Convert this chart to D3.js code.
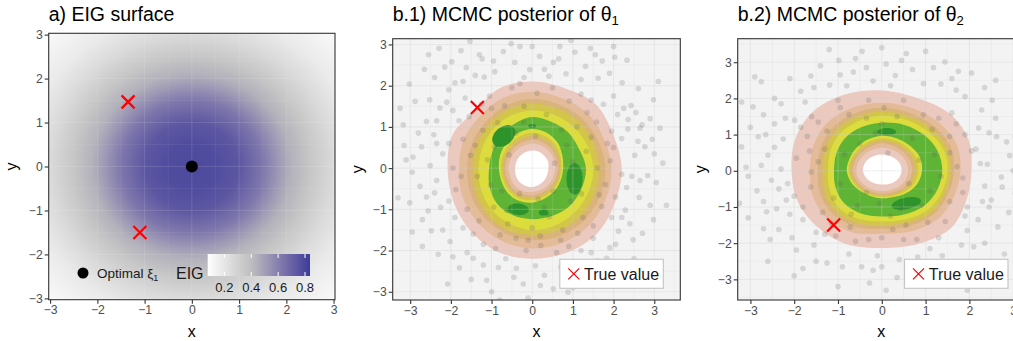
<!DOCTYPE html>
<html>
<head>
<meta charset="utf-8">
<script src="https://cdn.jsdelivr.net/npm/d3@7"></script>
<style>
  body { margin: 0; background: #fff; }
  svg { display: block; font-family: "Liberation Sans", Arial, sans-serif; }
</style>
</head>
<body>
<svg id="chart" width="1013" height="341"></svg>
<script>
// ---------- data ----------
const axisTicks = [-3, -2, -1, 0, 1, 2, 3];
const gridMinor = [-3.5, -2.5, -1.5, -0.5, 0.5, 1.5, 2.5, 3.5];

// EIG surface: value by distance from the origin
const eigRadius = [0, 0.5, 1.0, 1.5, 1.8, 2.1, 2.5, 3.0, 3.5, 4.3];
const eigValue  = [0.79, 0.78, 0.74, 0.63, 0.53, 0.44, 0.36, 0.26, 0.18, 0.1];
const eigLimits = [0.076, 0.837];
const eigBreaks = [0.2, 0.4, 0.6, 0.8];
const optimalXi = [0, 0];
const trueTheta1 = [-1.35, 1.47];
const trueTheta2 = [-1.1, -1.5];

// posterior density bands: boundary radius at each angle
const ringAngles = [0, 22.5, 45, 67.5, 90, 112.5, 135, 157.5, 180, 202.5, 225, 247.5, 270, 292.5, 315, 337.5];

const b1Centre = [0.0, 0.0];
const b1Outer = [
  [2.2, 2.15, 2.2, 2.1, 2.1, 2.1, 1.98, 2.12, 2.08, 2.1, 2.15, 2.2, 2.2, 2.22, 2.25, 2.2],
  [1.95, 1.9, 1.9, 1.85, 1.85, 1.85, 1.8, 1.82, 1.8, 1.85, 1.88, 1.92, 1.95, 1.96, 1.97, 1.96],
  [1.8, 1.75, 1.72, 1.68, 1.68, 1.65, 1.6, 1.6, 1.6, 1.64, 1.68, 1.72, 1.75, 1.78, 1.8, 1.8],
  [1.64, 1.62, 1.6, 1.57, 1.57, 1.54, 1.5, 1.46, 1.46, 1.5, 1.57, 1.62, 1.62, 1.64, 1.66, 1.65],
  [1.5, 1.46, 1.42, 1.4, 1.4, 1.38, 1.35, 1.32, 1.32, 1.36, 1.42, 1.46, 1.5, 1.5, 1.5, 1.5],
  [1.32, 1.24, 1.24, 1.22, 1.24, 1.16, 1.1, 1.06, 1.06, 1.14, 1.22, 1.24, 1.24, 1.26, 1.3, 1.31]
];
const b1Inner = [
  [0.4, 0.42, 0.42, 0.43, 0.43, 0.42, 0.42, 0.42, 0.42, 0.44, 0.46, 0.46, 0.46, 0.44, 0.42, 0.4],
  [0.56, 0.57, 0.58, 0.59, 0.59, 0.58, 0.58, 0.58, 0.58, 0.58, 0.6, 0.6, 0.58, 0.57, 0.56, 0.56],
  [0.63, 0.64, 0.66, 0.68, 0.69, 0.67, 0.66, 0.66, 0.66, 0.66, 0.68, 0.68, 0.66, 0.64, 0.63, 0.63],
  [0.68, 0.7, 0.73, 0.76, 0.78, 0.75, 0.73, 0.72, 0.72, 0.72, 0.74, 0.74, 0.72, 0.7, 0.68, 0.68],
  [0.72, 0.75, 0.8, 0.84, 0.86, 0.83, 0.8, 0.78, 0.77, 0.77, 0.79, 0.8, 0.78, 0.75, 0.73, 0.72],
  [0.76, 0.8, 0.88, 0.93, 0.95, 0.92, 0.88, 0.85, 0.82, 0.82, 0.85, 0.86, 0.84, 0.8, 0.78, 0.76]
];
// dark green peaks: [x, y, rx, ry, rotation]
const b1Peaks = [
  [-0.7, 0.78, 0.32, 0.22, 40],
  [1.04, -0.26, 0.2, 0.38, 0],
  [-0.34, -1.0, 0.26, 0.14, -5],
  [0.0, 1.02, 0.1, 0.05, 0],
  [0.28, -1.08, 0.12, 0.07, 0]
];

const b2Centre = [0.0, 0.02];
const b2Outer = [
  [2.05, 2.15, 2.2, 2.15, 2.2, 2.25, 2.25, 2.15, 2.06, 2.1, 2.15, 2.2, 2.15, 2.2, 2.25, 2.1],
  [1.8, 1.85, 1.85, 1.85, 1.86, 1.85, 1.8, 1.7, 1.64, 1.72, 1.82, 1.85, 1.76, 1.82, 1.86, 1.8],
  [1.65, 1.7, 1.7, 1.7, 1.72, 1.68, 1.62, 1.52, 1.46, 1.54, 1.64, 1.68, 1.62, 1.67, 1.7, 1.65],
  [1.57, 1.6, 1.6, 1.6, 1.62, 1.57, 1.5, 1.4, 1.34, 1.42, 1.54, 1.57, 1.52, 1.57, 1.62, 1.57],
  [1.5, 1.52, 1.5, 1.5, 1.5, 1.45, 1.38, 1.28, 1.23, 1.3, 1.42, 1.45, 1.42, 1.47, 1.52, 1.5],
  [1.38, 1.38, 1.37, 1.35, 1.31, 1.27, 1.21, 1.13, 1.09, 1.15, 1.25, 1.29, 1.28, 1.33, 1.38, 1.38]
];
const b2Inner = [
  [0.45, 0.45, 0.44, 0.43, 0.43, 0.43, 0.43, 0.43, 0.43, 0.42, 0.41, 0.4, 0.4, 0.42, 0.44, 0.45],
  [0.6, 0.6, 0.6, 0.61, 0.62, 0.6, 0.58, 0.58, 0.58, 0.58, 0.57, 0.57, 0.58, 0.58, 0.6, 0.6],
  [0.69, 0.7, 0.7, 0.72, 0.74, 0.7, 0.67, 0.66, 0.66, 0.65, 0.64, 0.64, 0.65, 0.66, 0.68, 0.69],
  [0.76, 0.78, 0.78, 0.8, 0.82, 0.77, 0.73, 0.72, 0.72, 0.7, 0.69, 0.69, 0.7, 0.72, 0.74, 0.76],
  [0.83, 0.85, 0.85, 0.87, 0.88, 0.83, 0.78, 0.76, 0.76, 0.74, 0.73, 0.73, 0.74, 0.76, 0.8, 0.83],
  [0.92, 0.94, 0.93, 0.94, 0.95, 0.9, 0.84, 0.8, 0.8, 0.78, 0.76, 0.76, 0.78, 0.8, 0.86, 0.9]
];
const b2Peaks = [
  [0.11, 1.08, 0.22, 0.1, 0],
  [0.56, -0.9, 0.34, 0.16, 12]
];

// MCMC samples (approximate positions)
const b1Samples = [
  [-2.29,2.91],[-1.53,3.08],[-1.23,2.65],[-0.43,2.57],[-0.06,2.39],[0.52,2.57],[1.05,2.81],[2.03,2.69],[2.98,1.66],[2.65,0.97],
  [3.14,0.97],[2.77,0.52],[2.32,-0.47],[2.98,-1.25],[2.48,-1.74],[1.83,-2.19],[1.5,-2.68],[0.52,-2.93],[-0.39,-2.43],[-1.12,-2.72],
  [-1.45,-2.19],[-2.02,-1.78],[-2.56,-1.04],[-3.01,-0.84],[-2.35,-0.3],[-2.93,0.27],[-2.72,0.52],[-3.17,1.05],[-2.6,1.13],[-2.27,1.46],
  [-2.52,1.66],[-1.9,2.07],[-0.92,2.34],[-0.71,2.83],[0.18,2.71],[0.83,2.29],[1.31,2.47],[1.62,2.18],[2.21,2.07],[2.43,1.52],
  [2.61,1.93],[2.36,1.18],[2.52,0.31],[2.84,-0.18],[2.29,-1.02],[2.63,-0.71],[2.12,-1.53],[1.18,-2.31],[0.94,-2.56],[0.08,-2.37],
  [-0.22,-2.81],[-0.83,-2.41],[-1.79,-2.42],[-2.31,-2.09],[-2.48,-1.52],[-2.76,-0.44],[-2.51,0.06],[-3.3,-0.72],[-2.42,0.81],[-2.88,1.62],
  [-1.62,2.44],[-1.18,2.21],[0.41,2.23],[-0.52,3.02],[1.91,-1.93],[2.71,-1.58],[3.21,0.12],[-3.02,2.04],[-2.08,-2.81],[0.88,-3.01],
  [1.43,2.91],[2.33,2.62],[-1.98,2.58],[-0.3,2.95],[0.68,2.95],[1.72,2.6],[2.9,1.2],[3.05,-0.35],[2.2,0.72],[2.4,-1.35],
  [1.45,-2.05],[0.3,-2.6],[-0.65,-2.2],[-1.5,-2.7],[-2.7,-1.9],[-2.25,-0.95],[-3.15,0.55],[-2.2,0.35],[-2.05,1.9],[-1.4,2.25],
  [0.0,2.95],[1.9,2.3],[2.55,1.35],[2.95,0.7],[2.2,-0.15],[1.7,-2.5],[-0.1,-3.15],[-1.0,-3.0],[-2.6,-0.7],[-3.25,1.45],
  [-2.65,2.4],[2.5,-2.2],
  [-2.4,2.2],[-2.15,2.45],[-1.75,2.85],[-0.95,2.6],[-0.2,2.2],[0.3,2.4],[0.65,2.65],[1.2,2.15],[1.55,2.75],[2.0,1.75],
  [2.25,1.45],[2.7,1.05],[2.35,0.95],[2.6,0.65],[3.0,0.35],[2.45,-0.2],[2.65,-0.3],[2.9,-0.9],[2.2,-1.2],[2.05,-1.85],
  [1.6,-2.25],[1.3,-2.75],[0.7,-2.4],[0.2,-2.85],[-0.45,-2.65],[-1.2,-2.35],[-1.6,-2.05],[-1.95,-2.15],[-2.2,-1.5],[-2.7,-1.25],
  [-2.4,-0.6],[-2.95,-0.1],[-2.35,0.6],[-2.8,0.85],[-2.35,1.15],[-2.1,1.6],[-1.7,2.1],[-3.1,0.2],[-1.3,2.75],[0.95,3.1],
  [2.25,-2.5],[-2.95,-1.55],[3.3,-0.9],[-0.8,-3.2],[1.0,-2.9],[2.0,2.95],[-2.55,2.75],[3.1,2.1],
  [-1.8,1.15],[-1.52,0.31],[-1.88,-0.52],[-1.31,-1.28],[-0.79,-1.62],[0.21,-1.88],[1.12,-1.58],[1.71,-0.93],[1.92,0.18],[1.58,1.12],
  [0.91,1.63],[0.12,1.82],[-0.68,1.51],[-1.21,0.92],[-1.02,-0.41],[-0.62,-1.02],[0.42,-1.18],[1.21,-0.62],[1.33,0.41],[0.72,0.93],
  [-0.21,1.12],[-0.93,0.52],[0.55,0.12],[-0.31,-0.62],[0.08,0.78],[-0.57,0.32],[0.52,-0.56],[-1.6,-1.0],[-1.0,1.45],[1.35,1.35],
  [1.8,-0.4],[0.9,-1.9],[-0.4,-1.7],[-1.7,0.7],[-1.95,0.0],[1.95,0.9],[0.5,1.95],[-0.5,1.95],[1.5,-1.4],[-1.45,-1.6],
  [0.0,-1.45],[1.0,0.15],[-0.95,-0.95],[-1.25,1.55],[1.1,1.0],[0.3,-0.95],[-1.35,-0.2],[0.75,-1.5],[1.6,0.0],[-0.2,1.5],
  [-0.85,1.1],[1.25,-1.2],[1.75,1.55],[-1.65,1.7],[-1.9,-1.2],[-0.15,-2.0],[0.6,-2.05],[2.05,-0.7],[2.0,0.5],[1.2,1.8],
  [-0.9,-1.95],[-2.05,0.6],[-1.1,0.2],[0.95,-0.8],[0.35,1.3],[-0.6,-1.35],[1.45,0.75],[-1.4,0.55],[0.2,-1.65],[1.65,-0.65],
  [-0.4,0.85],[0.85,0.55],[-0.75,-0.55],[0.15,-0.75],
  [-1.95,1.4],[-2.05,-0.8],[1.95,-1.2],[1.2,-2.0],[-1.2,-1.85],[2.1,1.3],[-0.3,2.05],[0.7,-1.75],[-1.75,-0.2],[1.85,0.6],
  [-1.05,1.75],[1.45,1.65],[-0.1,-1.75],[-1.55,1.25],[1.5,-1.7],[-1.7,-1.45]
];
const b2Samples = [
  [0.56,3.24],[-2.75,2.46],[-2.94,1.77],[-2.82,0.94],[-3.2,0.66],[-2.6,0.43],[-2.52,-0.26],[-2.18,-0.81],[-2.63,-1.13],[-1.95,-2.19],
  [-0.46,-2.65],[0.0,-2.65],[0.64,-3.16],[1.55,-3.02],[1.82,-2.05],[2.5,-0.81],[2.73,-0.17],[2.62,0.94],[2.28,1.68],[1.7,2.23],
  [1.44,3.01],[-0.65,2.73],[-1.19,2.37],[-1.99,1.4],[-1.62,2.62],[-0.98,3.05],[-0.2,2.48],[0.31,2.63],[0.95,2.41],[1.18,2.85],
  [2.05,2.7],[2.52,1.95],[2.21,1.18],[2.92,0.42],[2.41,0.18],[2.35,-0.42],[3.05,-0.62],[2.2,-1.35],[2.65,-1.55],[1.38,-2.35],
  [2.05,-2.55],[0.82,-2.38],[0.35,-2.95],[-0.28,-3.1],[-0.75,-2.3],[-1.25,-2.55],[-1.55,-2.05],[-2.35,-1.62],[-2.85,-0.55],[-2.3,0.05],
  [-3.05,-0.15],[-2.25,0.88],[-2.3,1.85],[-1.85,2.2],[-2.9,2.6],[-0.45,3.3],[1.0,3.3],[1.95,-3.3],[-1.0,-3.2],[3.1,1.4],
  [-3.25,-0.9],[2.8,-2.3],[-2.6,-2.5],[0.1,2.95],[1.6,2.55],[2.45,-1.0],[-2.1,-1.2],[-2.45,1.3],[-1.4,2.9],[0.7,-2.7],
  [-0.1,-2.35],[1.1,-2.15],[2.15,0.6],[-2.15,-0.35],[2.6,2.5],[-3.0,1.2],[-1.8,-2.7],[2.35,-2.0],[3.0,0.0],[-2.7,-1.6],
  [0.0,3.4],[-0.8,2.35],
  [-2.45,2.0],[-2.1,2.55],[-1.55,2.3],[-0.95,2.65],[-0.35,2.85],[0.2,2.35],[0.7,2.8],[1.35,2.4],[1.9,2.05],[2.35,2.3],
  [2.6,1.45],[2.45,1.05],[2.85,0.8],[2.25,0.2],[2.75,-0.45],[2.3,-0.85],[2.9,-1.15],[1.95,-1.65],[2.1,-2.1],[1.5,-2.6],
  [1.0,-2.55],[0.4,-2.45],[-0.2,-2.75],[-0.9,-2.65],[-1.5,-2.5],[-2.05,-1.85],[-2.55,-1.9],[-2.4,-1.05],[-2.7,-0.85],[-2.35,-0.5],
  [-2.75,0.15],[-2.45,0.65],[-2.65,1.0],[-2.2,1.45],[-2.7,1.55],[-1.75,1.9],[-3.1,0.1],[-0.6,3.1],[0.45,3.05],[1.75,2.75],
  [3.05,0.95],[3.15,-0.3],[2.5,-2.6],[0.1,-3.3],[-2.0,-2.9],[-3.05,-1.3],[-3.2,1.9],[-1.2,3.35],
  [-1.7,0.95],[-1.45,0.25],[-1.62,-0.45],[-1.35,-1.15],[-0.72,-1.55],[0.25,-1.62],[1.05,-1.42],[1.55,-0.85],[1.72,0.12],[1.55,0.95],
  [0.95,1.55],[0.05,1.75],[-0.75,1.55],[-1.25,1.1],[-0.95,-0.35],[-0.55,-0.95],[0.45,-1.05],[1.1,-0.55],[1.2,0.45],[0.7,0.9],
  [-0.15,1.05],[-0.85,0.45],[0.14,0.5],[-0.35,-0.6],[0.62,-0.35],[-1.95,0.35],[-1.6,1.5],[1.9,1.0],[1.85,-0.6],[-0.3,-1.9],
  [0.8,-1.9],[-1.0,1.95],[0.5,1.95],[1.3,1.45],[-1.8,-1.0],[-1.05,-1.8],[1.45,-1.4],[1.9,-1.25],[-0.5,0.75],[0.85,0.3],
  [-1.1,-0.75],[0.2,-1.25],[1.35,-0.15],[-1.3,0.6],[0.0,1.3],[-0.7,-1.2],[0.9,-0.95],[-1.61,-0.03],[1.6,1.6],[-1.5,-1.7],
  [0.35,1.5],[1.15,1.15],[-0.35,1.45],[-1.15,-1.45],[1.55,0.5],[0.55,-1.5],[-0.05,-0.9],[-1.65,0.55],
  [-1.85,1.2],[-2.0,-0.7],[1.95,-1.0],[1.3,-1.85],[-1.3,-1.75],[2.05,0.55],[-0.3,1.95],[0.5,-1.9],[-1.8,-1.35],[1.85,-0.2],
  [-0.95,1.75],[1.7,1.3],[0.0,-1.85],[-1.45,1.35],[-0.6,-1.95]
];

// ---------- styles ----------
const bandColours = ['#ecc9bf', '#e4bb98', '#d9b378', '#d3c54a', '#dcdc3c', '#5fb436'];
const peakColour = '#2e932a';
const eigColour = d3.scaleLinear()
  .domain([eigLimits[0], 0.4, eigLimits[1]])
  .range(['#ffffff', '#bebebe', '#3c3c99'])
  .interpolate(d3.interpolateLab)
  .clamp(true);
const tickFmt = d3.format('d');

const svg = d3.select('#chart');
const defs = svg.append('defs');

const panels = {
  a:  { left: 48.7,  top: 33.3, right: 335,   bottom: 299.7, xDom: [-3.03, 3.03], yDom: [-3.03, 3.03], yLabelX: 17.3 },
  b1: { left: 392.7, top: 38.7, right: 680.3, bottom: 300,   xDom: [-3.43, 3.64], yDom: [-3.2, 3.14],  yLabelX: 363.3 },
  b2: { left: 737.7, top: 38.7, right: 1025,  bottom: 300,   xDom: [-3.29, 3.27], yDom: [-3.57, 3.65], yLabelX: 706 }
};

function scales(p) {
  return {
    x: d3.scaleLinear().domain(p.xDom).range([p.left, p.right]),
    y: d3.scaleLinear().domain(p.yDom).range([p.bottom, p.top])
  };
}

function clipFor(id, p) {
  defs.append('clipPath').attr('id', 'clip-' + id)
    .append('rect').attr('x', p.left).attr('y', p.top)
    .attr('width', p.right - p.left).attr('height', p.bottom - p.top);
  return svg.append('g').attr('clip-path', `url(#clip-${id})`);
}

function grid(g, p, s, colour, opacity) {
  const lines = g.append('g').attr('stroke', colour).attr('stroke-opacity', opacity);
  lines.selectAll('.vmin').data(gridMinor).join('line')
    .attr('x1', d => s.x(d)).attr('x2', d => s.x(d)).attr('y1', p.top).attr('y2', p.bottom)
    .attr('stroke-width', 0.5);
  lines.selectAll('.hmin').data(gridMinor).join('line')
    .attr('y1', d => s.y(d)).attr('y2', d => s.y(d)).attr('x1', p.left).attr('x2', p.right)
    .attr('stroke-width', 0.5);
  lines.selectAll('.vmaj').data(axisTicks).join('line')
    .attr('x1', d => s.x(d)).attr('x2', d => s.x(d)).attr('y1', p.top).attr('y2', p.bottom)
    .attr('stroke-width', 1);
  lines.selectAll('.hmaj').data(axisTicks).join('line')
    .attr('y1', d => s.y(d)).attr('y2', d => s.y(d)).attr('x1', p.left).attr('x2', p.right)
    .attr('stroke-width', 1);
}

function frame(p, s, title, sub) {
  svg.append('rect').attr('x', p.left).attr('y', p.top)
    .attr('width', p.right - p.left).attr('height', p.bottom - p.top)
    .attr('fill', 'none').attr('stroke', '#333').attr('stroke-width', 1.1);

  const styleAxis = g => {
    g.select('.domain').remove();
    g.selectAll('.tick line').attr('stroke', '#333').attr('stroke-width', 1.1);
    g.selectAll('.tick text').attr('fill', '#4d4d4d').attr('font-size', 12.2)
      .attr('font-family', '"Liberation Sans", Arial, sans-serif');
  };
  svg.append('g').attr('transform', `translate(0,${p.bottom})`)
    .call(d3.axisBottom(s.x).tickValues(axisTicks).tickFormat(tickFmt).tickSize(4).tickPadding(2))
    .call(styleAxis);
  svg.append('g').attr('transform', `translate(${p.left},0)`)
    .call(d3.axisLeft(s.y).tickValues(axisTicks).tickFormat(tickFmt).tickSize(4).tickPadding(2))
    .call(styleAxis);

  svg.append('text').attr('x', (p.left + p.right) / 2).attr('y', 336.5)
    .attr('text-anchor', 'middle').attr('font-size', 16).attr('fill', '#000').text('x');
  svg.append('text')
    .attr('transform', `translate(${p.yLabelX},${(p.top + p.bottom) / 2}) rotate(-90)`)
    .attr('text-anchor', 'middle').attr('font-size', 16).attr('fill', '#000').text('y');

  const t = svg.append('text').attr('x', p.left).attr('y', 20.5)
    .attr('font-size', 19.5).attr('fill', '#000').text(title);
  if (sub) {
    t.append('tspan').attr('font-size', 13).attr('dy', 4).text(sub);
  }
}

function cross(g, s, pt, half, width) {
  const cx = s.x(pt[0]), cy = s.y(pt[1]);
  g.append('path')
    .attr('d', `M${cx - half},${cy - half}L${cx + half},${cy + half}M${cx - half},${cy + half}L${cx + half},${cy - half}`)
    .attr('stroke', '#ff0000').attr('stroke-width', width).attr('fill', 'none');
}

// ---------- panel a: EIG surface ----------
{
  const p = panels.a, s = scales(p);
  const kx = s.x(1) - s.x(0), ky = s.y(0) - s.y(1);
  const cx = s.x(0), cy = s.y(0);
  const rMax = eigRadius[eigRadius.length - 1];
  const grad = defs.append('radialGradient').attr('id', 'eigGrad')
    .attr('gradientUnits', 'userSpaceOnUse')
    .attr('cx', cx).attr('cy', cy).attr('r', rMax * kx)
    .attr('gradientTransform', `translate(${cx},${cy}) scale(1,${ky / kx}) translate(${-cx},${-cy})`);
  grad.selectAll('stop').data(eigRadius).join('stop')
    .attr('offset', d => d / rMax)
    .attr('stop-color', (d, i) => eigColour(eigValue[i]));

  const g = clipFor('a', p);
  g.append('rect').attr('x', p.left).attr('y', p.top)
    .attr('width', p.right - p.left).attr('height', p.bottom - p.top)
    .attr('fill', 'url(#eigGrad)');
  grid(g, p, s, '#ffffff', 0.12);

  cross(g, s, trueTheta1, 6.5, 2.2);
  cross(g, s, trueTheta2, 6.5, 2.2);
  g.append('circle').attr('cx', s.x(optimalXi[0])).attr('cy', s.y(optimalXi[1]))
    .attr('r', 6).attr('fill', '#000');

  // legend
  const lg = svg.append('g');
  lg.append('circle').attr('cx', 83).attr('cy', 273).attr('r', 5.5).attr('fill', '#000');
  const lt = lg.append('text').attr('x', 97).attr('y', 277.5).attr('font-size', 13.5).attr('fill', '#1a1a1a')
    .text('Optimal ξ');
  lt.append('tspan').attr('font-size', 9).attr('dy', 3).text('1');
  lg.append('text').attr('x', 176).attr('y', 279).attr('font-size', 16).attr('fill', '#1a1a1a').text('EIG');

  const bar = { left: 207.7, right: 310, top: 254, bottom: 276 };
  const bx = d3.scaleLinear().domain(eigLimits).range([bar.left, bar.right]);
  const lin = defs.append('linearGradient').attr('id', 'eigBar');
  const barStops = d3.range(0, 1.0001, 0.05);
  lin.selectAll('stop').data(barStops).join('stop')
    .attr('offset', d => d)
    .attr('stop-color', d => eigColour(eigLimits[0] + d * (eigLimits[1] - eigLimits[0])));
  lg.append('rect').attr('x', bar.left).attr('y', bar.top)
    .attr('width', bar.right - bar.left).attr('height', bar.bottom - bar.top)
    .attr('fill', 'url(#eigBar)');
  lg.selectAll('.tk1').data(eigBreaks).join('line')
    .attr('x1', d => bx(d)).attr('x2', d => bx(d)).attr('y1', bar.top).attr('y2', bar.top + 4)
    .attr('stroke', '#fff').attr('stroke-width', 1);
  lg.selectAll('.tk2').data(eigBreaks).join('line')
    .attr('x1', d => bx(d)).attr('x2', d => bx(d)).attr('y1', bar.bottom - 4).attr('y2', bar.bottom)
    .attr('stroke', '#fff').attr('stroke-width', 1);
  lg.selectAll('.lbl').data(eigBreaks).join('text')
    .attr('x', d => bx(d)).attr('y', 292).attr('text-anchor', 'middle')
    .attr('font-size', 13).attr('fill', '#1a1a1a').text(d => d.toFixed(1));

  frame(p, s, 'a) EIG surface', null);
}

// ---------- panels b: MCMC posteriors ----------
function posterior(id, centre, outer, inner, peaks, samples, truth, sub) {
  const p = panels[id], s = scales(p);
  const kx = s.x(1) - s.x(0), ky = s.y(0) - s.y(1);
  const g = clipFor(id, p);
  g.append('rect').attr('x', p.left).attr('y', p.top)
    .attr('width', p.right - p.left).attr('height', p.bottom - p.top)
    .attr('fill', '#f3f3f3');

  const line = d3.line().x(d => s.x(d[0])).y(d => s.y(d[1]))
    .curve(d3.curveCatmullRomClosed.alpha(0.5));
  const ring = radii => radii.map((r, i) => {
    const a = ringAngles[i] * Math.PI / 180;
    return [centre[0] + r * Math.cos(a), centre[1] + r * Math.sin(a)];
  });

  outer.forEach((radii, k) => {
    g.append('path').attr('d', line(ring(radii))).attr('fill', bandColours[k]);
  });
  for (let k = inner.length - 1; k >= 0; k--) {
    g.append('path').attr('d', line(ring(inner[k])))
      .attr('fill', k === 0 ? '#ffffff' : bandColours[k - 1]);
  }
  g.selectAll('.peak').data(peaks).join('ellipse')
    .attr('transform', d => `translate(${s.x(d[0])},${s.y(d[1])}) rotate(${-d[4]})`)
    .attr('rx', d => d[2] * kx).attr('ry', d => d[3] * ky)
    .attr('fill', peakColour);

  grid(g, p, s, '#cfcfcf', 0.35);

  g.selectAll('.pt').data(samples).join('circle')
    .attr('cx', d => s.x(d[0])).attr('cy', d => s.y(d[1])).attr('r', 2.8)
    .attr('fill', '#555').attr('fill-opacity', 0.19);

  cross(g, s, truth, 6.5, 2.2);

  // legend box
  const box = { right: p.right - 17, width: 103.5, top: 259.3, height: 29 };
  const bl = box.right - box.width;
  g.append('rect').attr('x', bl).attr('y', box.top).attr('width', box.width).attr('height', box.height)
    .attr('fill', '#fff').attr('stroke', '#c4c4c4').attr('stroke-width', 1.1);
  const mx = bl + 14, my = box.top + 14.5, h = 5.5;
  g.append('path')
    .attr('d', `M${mx - h},${my - h}L${mx + h},${my + h}M${mx - h},${my + h}L${mx + h},${my - h}`)
    .attr('stroke', '#ff0000').attr('stroke-width', 1.2);
  g.append('text').attr('x', bl + 24.3).attr('y', box.top + 20.5)
    .attr('font-size', 16).attr('fill', '#1a1a1a').text('True value');

  frame(p, s, 'b.' + sub + ') MCMC posterior of θ', sub);
}

posterior('b1', b1Centre, b1Outer, b1Inner, b1Peaks, b1Samples, trueTheta1, '1');
posterior('b2', b2Centre, b2Outer, b2Inner, b2Peaks, b2Samples, trueTheta2, '2');
</script>
</body>
</html>
